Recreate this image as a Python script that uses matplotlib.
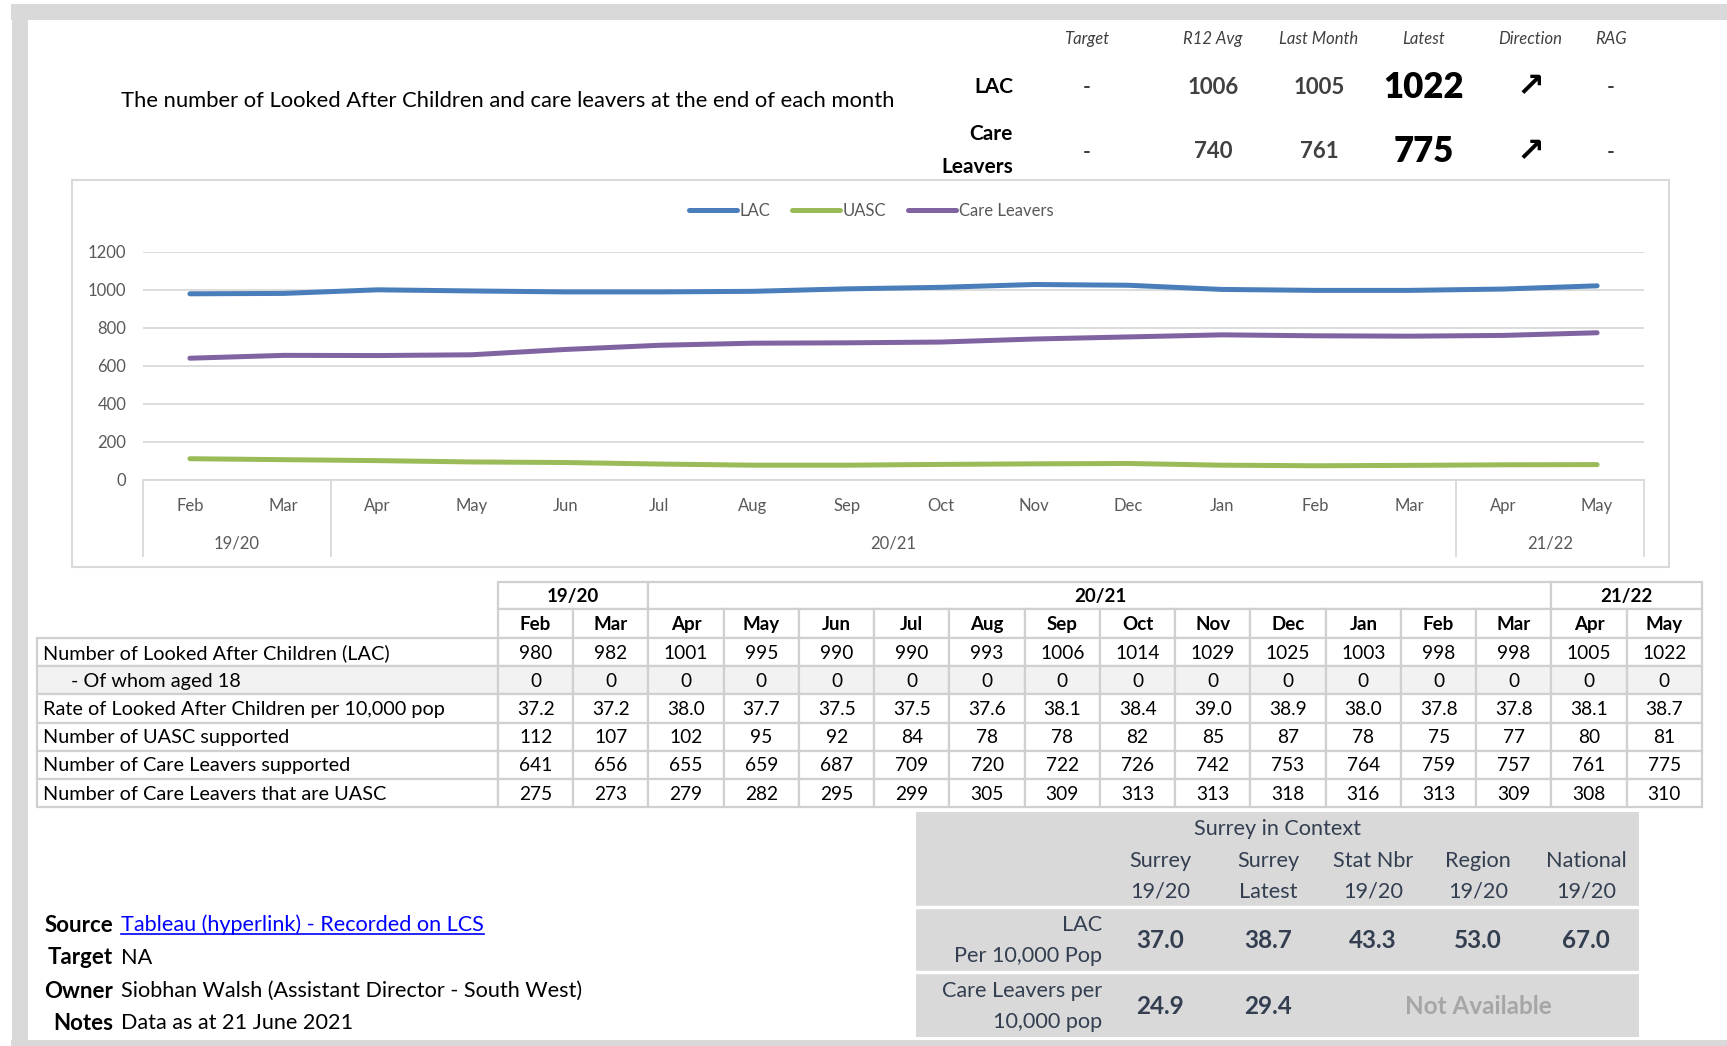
import matplotlib
matplotlib.use("Agg")
import matplotlib.pyplot as plt
import matplotlib.transforms as mtransforms
from matplotlib.patches import Rectangle

plt.rcParams['font.family'] = ['Lato', 'DejaVu Sans']

W, H = 1727, 1046

# ---------------------------------------------------------------------------
# Data
# ---------------------------------------------------------------------------
MONTHS = ["Feb", "Mar", "Apr", "May", "Jun", "Jul", "Aug", "Sep",
          "Oct", "Nov", "Dec", "Jan", "Feb", "Mar", "Apr", "May"]
YEARS = ["19/20"] * 2 + ["20/21"] * 12 + ["21/22"] * 2

LAC = [980, 982, 1001, 995, 990, 990, 993, 1006, 1014, 1029, 1025, 1003, 998, 998, 1005, 1022]
LAC_AGED_18 = [0, 0, 0, 0, 0, 0, 0, 0, 0, 0, 0, 0, 0, 0, 0, 0]
LAC_RATE = [37.2, 37.2, 38.0, 37.7, 37.5, 37.5, 37.6, 38.1, 38.4, 39.0, 38.9, 38.0, 37.8, 37.8, 38.1, 38.7]
UASC = [112, 107, 102, 95, 92, 84, 78, 78, 82, 85, 87, 78, 75, 77, 80, 81]
CARE_LEAVERS = [641, 656, 655, 659, 687, 709, 720, 722, 726, 742, 753, 764, 759, 757, 761, 775]
CL_UASC = [275, 273, 279, 282, 295, 299, 305, 309, 313, 313, 318, 316, 313, 309, 308, 310]

TABLE_LABELS = ["Number of Looked After Children (LAC)",
                "- Of whom aged 18",
                "Rate of Looked After Children per 10,000 pop",
                "Number of UASC supported",
                "Number of Care Leavers supported",
                "Number of Care Leavers that are UASC"]
TABLE_ROWS = [LAC, LAC_AGED_18, LAC_RATE, UASC, CARE_LEAVERS, CL_UASC]
TABLE_FMT = ["{:d}", "{:d}", "{:.1f}", "{:d}", "{:d}", "{:d}"]

TITLE = "The number of Looked After Children and care leavers at the end of each month"
KPI_COLS = ["Target", "R12 Avg", "Last Month", "Latest", "Direction", "RAG"]
KPI_ROWS = ["LAC", "Care\nLeavers"]
KPI_TARGET = ["-", "-"]
KPI_R12 = [1006, 740]
KPI_LAST = [1005, 761]
KPI_LATEST = [1022, 775]
KPI_DIR = ["\u2197", "\u2197"]
KPI_RAG = ["-", "-"]

CTX_COLS = ["Surrey\n19/20", "Surrey\nLatest", "Stat Nbr\n19/20", "Region\n19/20", "National\n19/20"]
CTX_ROWS = ["LAC\nPer 10,000 Pop", "Care Leavers per\n10,000 pop"]
CTX_LAC = [37.0, 38.7, 43.3, 53.0, 67.0]
CTX_CL = [24.9, 29.4]

INFO_KEYS = ["Source", "Target", "Owner", "Notes"]
INFO_VALS = ["Tableau (hyperlink) - Recorded on LCS", "NA",
             "Siobhan Walsh (Assistant Director - South West)", "Data as at 21 June 2021"]

C_LAC, C_UASC, C_CL = "#4a7ebb", "#9bbb59", "#8064a2"
GRID = "#d9d9d9"
TXT = "#595959"
CTX_TXT = "#333f50"

fig = plt.figure(figsize=(W / 100, H / 100), dpi=100)
bg = fig.add_axes([0, 0, 1, 1])
bg.set_xlim(0, W)
bg.set_ylim(H, 0)
bg.axis("off")

# page frame
bg.add_patch(Rectangle((11, 4), W - 11, 16, color="#d9d9d9", lw=0))
bg.add_patch(Rectangle((12, 4), 16, 1038, color="#d9d9d9", lw=0))
bg.add_patch(Rectangle((11, 1040), W - 11, 6, color="#d9d9d9", lw=0))

# ---------------------------------------------------------------------------
# Header / KPI block
# ---------------------------------------------------------------------------
bg.text(121, 101, TITLE, fontsize=15.8, color="black", va="center")
col_x = [1087, 1213, 1319, 1424, 1530, 1611]
for x, c in zip(col_x, KPI_COLS):
    bg.text(x, 39, c, fontsize=12, style="italic", color="#404040", ha="center", va="center")
row_y = [87, 152]
for i, y in enumerate(row_y):
    lines = KPI_ROWS[i].split("\n")
    if len(lines) == 1:
        bg.text(1013, y, lines[0], fontsize=15, weight="bold", ha="right", va="center")
    else:
        bg.text(1013, y - 18, lines[0], fontsize=15, weight="bold", ha="right", va="center")
        bg.text(1013, y + 15, lines[1], fontsize=15, weight="bold", ha="right", va="center")
    bg.text(col_x[0], y, KPI_TARGET[i], fontsize=15, weight="bold", color="#404040", ha="center", va="center")
    bg.text(col_x[1], y, str(KPI_R12[i]), fontsize=16, weight="bold", color="#404040", ha="center", va="center")
    bg.text(col_x[2], y, str(KPI_LAST[i]), fontsize=16, weight="bold", color="#404040", ha="center", va="center")
    bg.text(col_x[3], y, str(KPI_LATEST[i]), fontsize=25, weight="heavy", color="black", ha="center", va="center")
    bg.text(col_x[4], y, KPI_DIR[i], fontsize=24, weight="bold", family="DejaVu Sans", ha="center", va="center")
    bg.text(col_x[5], y, KPI_RAG[i], fontsize=15, weight="bold", color="#404040", ha="center", va="center")

# ---------------------------------------------------------------------------
# Line chart
# ---------------------------------------------------------------------------
bg.add_patch(Rectangle((72, 180), 1597, 387, fill=False, ec=GRID, lw=1.5))

ax = fig.add_axes([143 / W, 1 - 480 / H, 1501 / W, 228 / H])
ax.patch.set_alpha(0)
x = list(range(len(MONTHS)))
for vals, col, lab in [(LAC, C_LAC, "LAC"), (UASC, C_UASC, "UASC"), (CARE_LEAVERS, C_CL, "Care Leavers")]:
    ax.plot(x, vals, color=col, lw=3.6, solid_capstyle="round", solid_joinstyle="round", label=lab)
ax.set_xlim(-0.5, len(MONTHS) - 0.5)
ax.set_ylim(0, 1200)
ax.set_yticks(range(0, 1201, 200))
ax.grid(axis="y", color=GRID, lw=1.3)
ax.set_axisbelow(True)
for s in ["top", "right", "left"]:
    ax.spines[s].set_visible(False)
ax.spines["bottom"].set_color(GRID)
ax.spines["bottom"].set_linewidth(1.3)
ax.set_xticks([])
ax.tick_params(axis="y", length=0, pad=12, labelsize=12, labelcolor=TXT)

trans = mtransforms.blended_transform_factory(ax.transData, ax.transAxes)
for i, m in enumerate(MONTHS):
    ax.text(i, -0.115, m, transform=trans, ha="center", va="center", fontsize=12, color=TXT)
bounds = [-0.5] + [i - 0.5 for i in range(1, len(YEARS)) if YEARS[i] != YEARS[i - 1]] + [len(YEARS) - 0.5]
for b in bounds:
    ax.plot([b, b], [0, -0.333], transform=trans, color=GRID, lw=1.3, clip_on=False)
for a, b in zip(bounds[:-1], bounds[1:]):
    ax.text((a + b) / 2, -0.277, YEARS[int(a + 0.5)], transform=trans,
            ha="center", va="center", fontsize=12, color=TXT)

leg = ax.legend(loc="center", bbox_to_anchor=(871 / W, 1 - 211 / H), bbox_transform=fig.transFigure,
                ncol=3, frameon=False, fontsize=12, handlelength=2.9, handletextpad=0.15,
                columnspacing=1.3)
for t in leg.get_texts():
    t.set_color(TXT)

# ---------------------------------------------------------------------------
# Data table
# ---------------------------------------------------------------------------
tx0, lab_x0, cw = 498, 37, 75.25
y_year, h_year = 582, 27
y_mon, h_mon = 609, 29
y_row0, rh = 638, 28.2
EDGE = "#d0d0d0"

def cell(x0, y0, w, h, fc="white"):
    bg.add_patch(Rectangle((x0, y0), w, h, fc=fc, ec=EDGE, lw=1.6))

for a, b in zip(bounds[:-1], bounds[1:]):
    i0, i1 = int(a + 0.5), int(b + 0.5)
    cell(tx0 + i0 * cw, y_year, (i1 - i0) * cw, h_year)
    bg.text(tx0 + (i0 + i1) / 2 * cw, y_year + h_year / 2 + 1, YEARS[i0], fontsize=13.5,
            weight="bold", ha="center", va="center")
for j, m in enumerate(MONTHS):
    cell(tx0 + j * cw, y_mon, cw, h_mon)
    bg.text(tx0 + (j + 0.5) * cw, y_mon + h_mon / 2 + 1, m, fontsize=13.5, weight="bold",
            ha="center", va="center")
for r, (lab, vals, fmt) in enumerate(zip(TABLE_LABELS, TABLE_ROWS, TABLE_FMT)):
    y0 = y_row0 + r * rh
    fc = "#f2f2f2" if r == 1 else "white"
    cell(lab_x0, y0, tx0 - lab_x0, rh, fc)
    indent = 28 if lab.startswith("-") else 0
    bg.text(lab_x0 + 6 + indent, y0 + rh / 2 + 1, lab, fontsize=14.3, ha="left", va="center")
    for j, v in enumerate(vals):
        cell(tx0 + j * cw, y0, cw, rh, fc)
        bg.text(tx0 + (j + 0.5) * cw, y0 + rh / 2 + 1, fmt.format(v), fontsize=13.8,
                ha="center", va="center")

# ---------------------------------------------------------------------------
# Surrey in context box
# ---------------------------------------------------------------------------
bg.add_patch(Rectangle((916, 812), 723, 225, fc="#d9d9d9", lw=0))
bg.plot([916, 1639], [907, 907], color="white", lw=2.5)
bg.plot([916, 1639], [972, 972], color="white", lw=2.5)
bg.text(1278, 829, "Surrey in Context", fontsize=15.6, color=CTX_TXT, ha="center", va="center")
ctx_x = [1160, 1268, 1373, 1478, 1586]
for cx, c in zip(ctx_x, CTX_COLS):
    l1, l2 = c.split("\n")
    bg.text(cx, 861, l1, fontsize=15.6, color=CTX_TXT, ha="center", va="center")
    bg.text(cx, 892, l2, fontsize=15.6, color=CTX_TXT, ha="center", va="center")
for ly, lab in zip([925, 991], CTX_ROWS):
    l1, l2 = lab.split("\n")
    bg.text(1102, ly, l1, fontsize=15.6, color=CTX_TXT, ha="right", va="center")
    bg.text(1102, ly + 31, l2, fontsize=15.6, color=CTX_TXT, ha="right", va="center")
for cx, v in zip(ctx_x, CTX_LAC):
    bg.text(cx, 941, f"{v:.1f}", fontsize=17.5, weight="bold", color=CTX_TXT, ha="center", va="center")
for cx, v in zip(ctx_x, CTX_CL):
    bg.text(cx, 1007, f"{v:.1f}", fontsize=17.5, weight="bold", color=CTX_TXT, ha="center", va="center")
bg.text(ctx_x[3], 1007, "Not Available", fontsize=17.5, weight="bold", color="#a6a6a6",
        ha="center", va="center")

# ---------------------------------------------------------------------------
# Source / owner block
# ---------------------------------------------------------------------------
info_y = [925, 958, 991, 1023]
link = None
for k, v, y in zip(INFO_KEYS, INFO_VALS, info_y):
    bg.text(113, y, k, fontsize=16, weight="bold", ha="right", va="center")
    t = bg.text(121, y, v, fontsize=15.6, ha="left", va="center",
                color="#0000ff" if k == "Source" else "black")
    if k == "Source":
        link = t

fig.canvas.draw()
bb = link.get_window_extent().transformed(bg.transData.inverted())
bg.plot([bb.x0, bb.x1], [max(bb.y0, bb.y1) - 1, max(bb.y0, bb.y1) - 1], color="#0000ff", lw=1.2)

fig.savefig("out.png", dpi=100)
